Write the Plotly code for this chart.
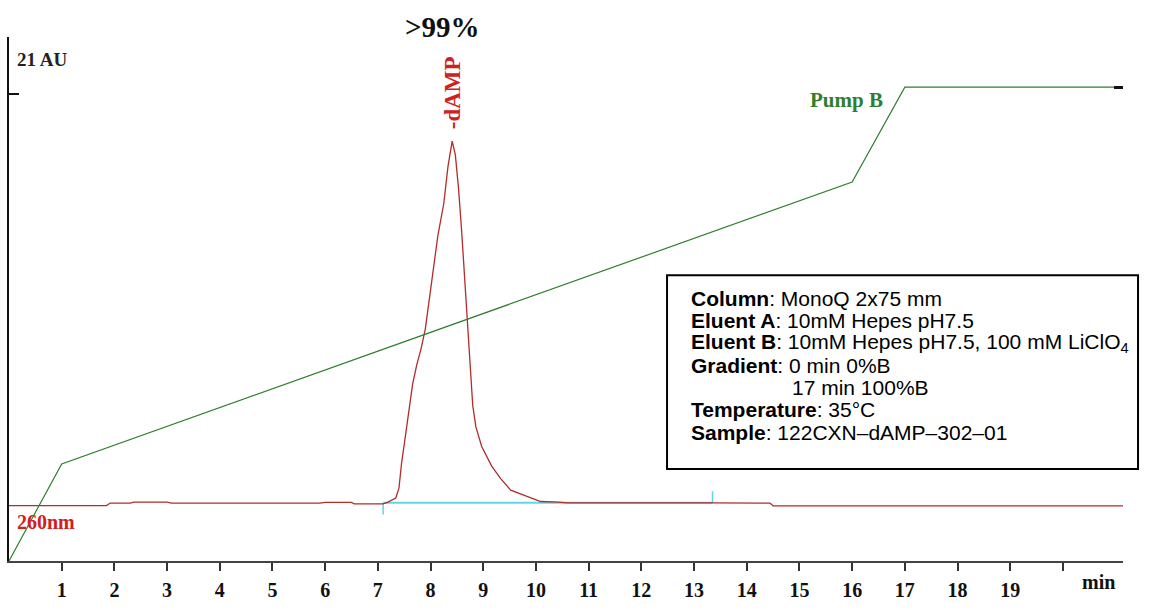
import plotly.graph_objects as go

# ---- data ----
# UV 260 nm trace (time in min, absorbance in AU)
uv_time = [0.0, 1.85, 1.92, 2.30, 2.37, 3.0, 3.08, 5.9, 6.0, 6.2, 6.3, 6.5, 6.55, 7.10,
           7.18, 7.34, 7.40, 7.45, 7.52, 7.59, 7.66, 7.74, 7.82, 7.90, 7.98, 8.06, 8.14,
           8.25, 8.33, 8.41, 8.47, 8.53, 8.59, 8.65, 8.71, 8.76, 8.80, 8.86, 8.97, 9.16,
           9.33, 9.52, 9.71, 9.90, 10.09, 10.43, 10.6, 13.35, 14.44, 14.50, 21.14]
uv_abs = [-0.02, -0.02, 0.11, 0.11, 0.16, 0.16, 0.11, 0.11, 0.15, 0.15, 0.14, 0.14, 0.07, 0.07,
          0.15, 0.37, 0.87, 2.15, 3.49, 4.97, 6.2, 7.2, 8.0, 9.0, 10.5, 12.2, 13.8,
          15.4, 17.3, 18.6, 17.9, 16.2, 14.0, 11.3, 8.6, 6.5, 5.1, 4.0, 3.0, 2.0,
          1.36, 0.77, 0.57, 0.39, 0.19, 0.16, 0.12, 0.12, 0.11, -0.03, -0.03]

# Pump B gradient (%B)
pump_time = [0.0, 1.0, 16.0, 17.0, 21.14]
pump_b = [0.0, 20.5, 80.0, 100.0, 100.0]

# integration baseline
base_start, base_end, base_level = 7.10, 13.35, 0.12
base_start_tick, base_end_tick = -0.47, 0.72

# peak
peak_time = 8.41
peak_label = "-dAMP"
purity_label = ">99%"

x_ticks = list(range(1, 21))
x_tick_text = [str(v) for v in range(1, 20)] + [""]

info_lines = [
    "<b>Column</b>: MonoQ 2x75 mm",
    "<b>Eluent A</b>: 10mM Hepes pH7.5",
    "<b>Eluent B</b>: 10mM Hepes pH7.5, 100 mM LiClO<sub>4</sub>",
    "<b>Gradient</b>: 0 min 0%B",
    "17 min 100%B",
    "<b>Temperature</b>: 35°C",
    "<b>Sample</b>: 122CXN–dAMP–302–01",
]

SERIF = "Liberation Serif, Times New Roman, serif"
SANS = "Arial, Liberation Sans, sans-serif"
RED = "#b32b2b"
LABEL_RED = "#d02020"
GREEN = "#2f7f2f"
CYAN = "#5fd8e6"

fig = go.Figure()
fig.add_trace(go.Scatter(x=pump_time, y=pump_b, mode="lines", yaxis="y2",
                         line=dict(color=GREEN, width=1.2), hoverinfo="skip"))
fig.add_trace(go.Scatter(x=[base_start, base_end], y=[base_level, base_level], mode="lines",
                         line=dict(color=CYAN, width=2), hoverinfo="skip"))
fig.add_trace(go.Scatter(x=[base_start, base_start], y=[base_level, base_start_tick], mode="lines",
                         line=dict(color=CYAN, width=1.5), hoverinfo="skip"))
fig.add_trace(go.Scatter(x=[base_end, base_end], y=[base_level, base_end_tick], mode="lines",
                         line=dict(color=CYAN, width=1.5), hoverinfo="skip"))
fig.add_trace(go.Scatter(x=uv_time, y=uv_abs, mode="lines",
                         line=dict(color=RED, width=1.3), hoverinfo="skip"))


def label(text, x, y, xref="paper", yref="paper", size=19, color="#111", family=SERIF,
          xanchor="left", angle=0):
    return dict(text=text, x=x, y=y, xref=xref, yref=yref, xanchor=xanchor, yanchor="middle",
                showarrow=False, textangle=angle,
                font=dict(family=family, size=size, color=color))


annotations = [
    label("<b>" + purity_label + "</b>", 8.22, 1.0185, xref="x", size=29, xanchor="center"),
    label("<b>21 AU</b>", 0.0054, 0.9575, size=19, color="#222"),
    label("<b>260nm</b>", 0.0054, 0.074, size=20, color=LABEL_RED),
    label("<b>Pump B</b>", 0.717, 0.880, size=21, color=GREEN),
    label("<b>" + peak_label + "</b>", peak_time, 0.893, xref="x", size=23, color=LABEL_RED,
          xanchor="center", angle=-90),
    label("<b>min</b>", 20.68, -0.0407, xref="x", size=20, xanchor="center"),
]
# text lines inside the info box (paper y of each line centre)
line_y = [0.5009, 0.4584, 0.4159, 0.3734, 0.3309, 0.2884, 0.2458]
for i, (txt, yy) in enumerate(zip(info_lines, line_y)):
    annotations.append(label(txt, 0.7011 if i == 4 else 0.6104, yy, size=21, color="#000",
                             family=SANS))

fig.update_layout(
    width=1159, height=610,
    margin=dict(l=9, r=36, t=37, b=32),
    paper_bgcolor="white", plot_bgcolor="white",
    showlegend=False,
    xaxis=dict(range=[0, 21.14], tickvals=x_ticks, ticktext=x_tick_text, ticks="outside",
               ticklen=8, tickwidth=1.5, tickcolor="#333", showline=True, linecolor="#444",
               linewidth=2, showgrid=False, zeroline=False, ticklabelstandoff=2,
               tickfont=dict(family=SERIF, size=20, color="#111", weight="bold")),
    yaxis=dict(range=[-2.85, 23.92], tickvals=[21], ticks="inside", ticklen=10, tickwidth=1.5,
               tickcolor="#111", showticklabels=False, showline=True, linecolor="#111",
               linewidth=1.5, showgrid=False, zeroline=False),
    yaxis2=dict(range=[0, 110.6], overlaying="y", side="right", tickvals=[100], ticks="inside",
                ticklen=9, tickwidth=2.5, tickcolor="#111", showticklabels=False,
                showline=False, showgrid=False, zeroline=False),
    shapes=[dict(type="rect", xref="paper", yref="paper", x0=0.5907, x1=1.0135, y0=0.1756,
                 y1=0.5453, line=dict(color="#000", width=2),
                 fillcolor="rgba(255,255,255,0)", layer="above")],
    annotations=annotations,
)

fig.write_html("out.html", config={"displayModeBar": False},
               post_script="document.body.style.margin='0px';")
